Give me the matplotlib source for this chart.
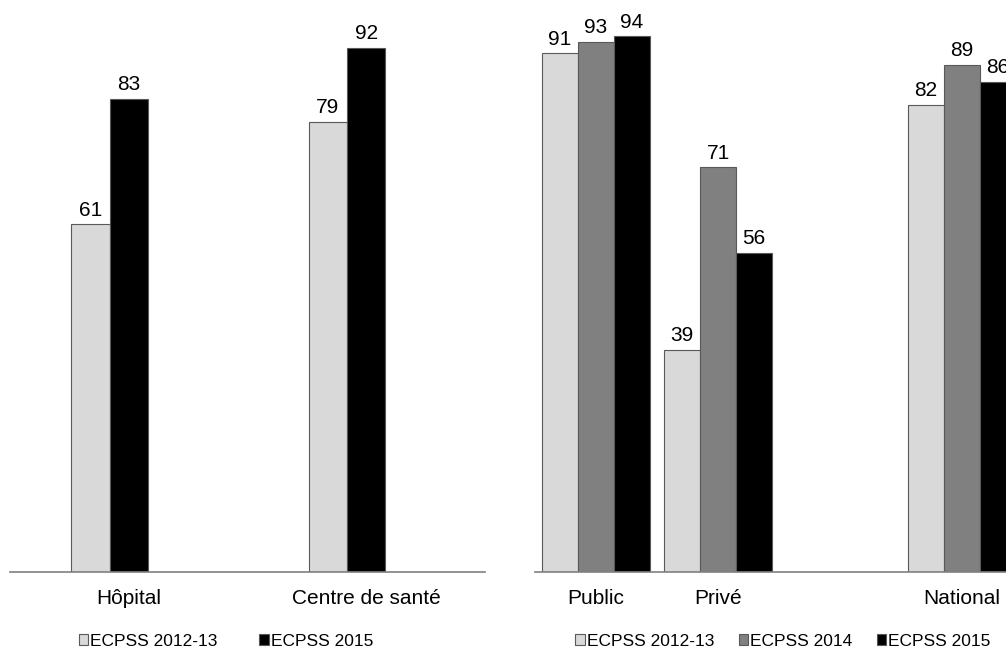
import matplotlib.pyplot as plt
from matplotlib.patches import Patch

plt.rcParams['font.family'] = ['Liberation Sans', 'DejaVu Sans']

# ---------------- data ----------------
left_categories = ["Hôpital", "Centre de santé"]
left_2012 = [61, 79]
left_2015 = [83, 92]

right_categories = ["Public", "Privé", "", "National"]
right_2012 = [91, 39, None, 82]
right_2014 = [93, 71, None, 89]
right_2015 = [94, 56, None, 86]

series_labels = ["ECPSS 2012-13", "ECPSS 2014", "ECPSS 2015"]
colors = ["#d9d9d9", "#808080", "#000000"]
edge = "#595959"

fig = plt.figure(figsize=(10.06, 6.51), dpi=100)

bottom = (651 - 572) / 651
height = 570 / 651


def style_axis(ax):
    for side in ["left", "right", "top"]:
        ax.spines[side].set_visible(False)
    ax.spines["bottom"].set_color("#808080")
    ax.spines["bottom"].set_linewidth(1.2)
    ax.set_yticks([])
    ax.tick_params(axis="x", length=0, pad=12, labelsize=15)
    ax.set_ylim(0, 100)


def draw_bars(ax, x, values, offset, width, color):
    xs = [xi + offset for xi, v in zip(x, values) if v is not None]
    vs = [v for v in values if v is not None]
    bars = ax.bar(xs, vs, width=width, color=color, edgecolor=edge, linewidth=0.8)
    for b, v in zip(bars, vs):
        ax.text(b.get_x() + b.get_width() / 2, v + 0.8, str(v),
                ha="center", va="bottom", fontsize=15)


# ---------------- left panel ----------------
# bars sit left of the category centre (third slot is empty)
ax1 = fig.add_axes([10 / 1006, bottom, 475 / 1006, height])
x1 = list(range(len(left_categories)))
w1 = 0.162
draw_bars(ax1, x1, left_2012, -w1, w1, colors[0])
draw_bars(ax1, x1, left_2015, 0, w1, colors[2])
ax1.set_xlim(-0.5, 1.5)
ax1.set_xticks(x1)
ax1.set_xticklabels(left_categories)
style_axis(ax1)

# ---------------- right panel ----------------
ax2 = fig.add_axes([535 / 1006, bottom, 471 / 1006, height])
x2 = list(range(len(right_categories)))
w2 = 0.295
draw_bars(ax2, x2, right_2012, -w2, w2, colors[0])
draw_bars(ax2, x2, right_2014, 0, w2, colors[1])
draw_bars(ax2, x2, right_2015, w2, w2, colors[2])
ax2.set_xlim(-0.5, 3.36)
ax2.set_xticks([0, 1, 3])
ax2.set_xticklabels(["Public", "Privé", "National"])
style_axis(ax2)

# ---------------- legends ----------------
def make_handles(idx):
    return [Patch(facecolor=colors[i], edgecolor=edge, linewidth=0.8) for i in idx]

leg_kw = dict(frameon=False, fontsize=12.5, handlelength=0.55, handleheight=0.55,
              handletextpad=0.12, borderaxespad=0, borderpad=0, loc="center")

fig.legend(make_handles([0, 2]), [series_labels[0], series_labels[2]], ncol=2,
           columnspacing=2.4, bbox_to_anchor=(226 / 1006, 1 - 641 / 651), **leg_kw)
fig.legend(make_handles([0, 1, 2]), series_labels, ncol=3,
           columnspacing=1.4, bbox_to_anchor=(783 / 1006, 1 - 641 / 651), **leg_kw)

fig.savefig("out.png", dpi=100)
